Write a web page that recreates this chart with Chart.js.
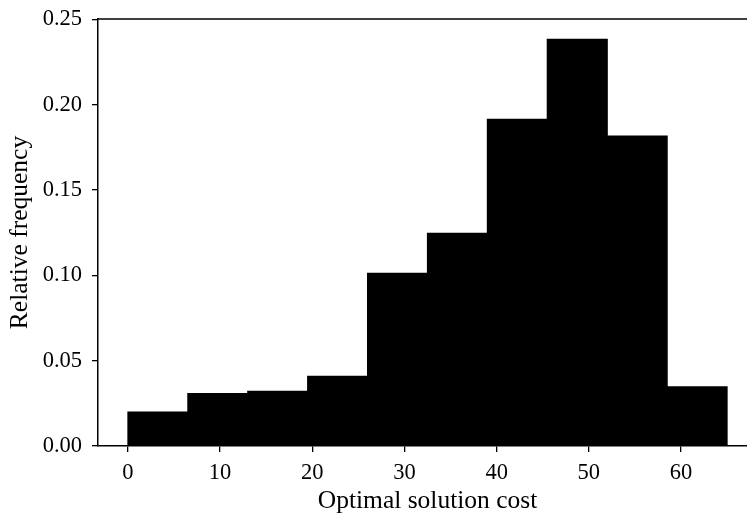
<!DOCTYPE html>
<html>
<head>
<meta charset="utf-8">
<script src="https://cdn.jsdelivr.net/npm/chart.js@4/dist/chart.umd.min.js"></script>
<style>
  html, body { margin: 0; padding: 0; overflow: hidden; background: #fff; width: 747px; height: 513px; }
  #wrap { position: absolute; left: 0; top: 0; width: 757px; height: 513px; }
</style>
</head>
<body>
<div id="wrap"><canvas id="c" width="757" height="513"></canvas></div>
<script>
// ---- data ----
const binStarts = [0, 6.5, 13, 19.5, 26, 32.5, 39, 45.5, 52, 58.5];
const binWidth = 6.5;
const frequencies = [0.0198, 0.0307, 0.0321, 0.0409, 0.1012, 0.1247, 0.1915, 0.2384, 0.1816, 0.0346];
const xTicks = [0, 10, 20, 30, 40, 50, 60];
const yTicks = [0.00, 0.05, 0.10, 0.15, 0.20, 0.25];
const xLabel = 'Optimal solution cost';
const yLabel = 'Relative frequency';

const FONT = "'Liberation Serif', 'Times New Roman', serif";

const points = binStarts.map((s, i) => ({ x: s + binWidth / 2, y: frequencies[i] }));

const topSpine = {
  id: 'topSpine',
  afterDraw(chart) {
    const { ctx, chartArea } = chart;
    ctx.save();
    ctx.strokeStyle = '#000';
    ctx.lineWidth = 1.5;
    ctx.beginPath();
    ctx.moveTo(chartArea.left - 0.75, chartArea.top);
    ctx.lineTo(chartArea.right, chartArea.top);
    ctx.stroke();
    ctx.restore();
  }
};

new Chart(document.getElementById('c'), {
  type: 'bar',
  data: {
    datasets: [{
      data: points,
      backgroundColor: '#000',
      borderWidth: 0,
      inflateAmount: 0.6,
      barPercentage: 1.0,
      categoryPercentage: 1.0
    }]
  },
  options: {
    responsive: false,
    animation: false,
    layout: { padding: { left: 0, right: 0, top: 19, bottom: 0 } },
    plugins: { legend: { display: false }, tooltip: { enabled: false } },
    scales: {
      x: {
        type: 'linear',
        offset: false,
        min: -3.25,
        max: 68.25,
        afterBuildTicks: (s) => { s.ticks = xTicks.map(v => ({ value: v })); },
        afterFit: (s) => { s.height = 67; s.paddingLeft = 0; s.paddingRight = 0; },
        grid: { offset: false, drawOnChartArea: false, drawTicks: true, tickLength: 6, color: '#000', lineWidth: 1.3 },
        border: { display: true, color: '#000', width: 1.5 },
        ticks: {
          autoSkip: false, maxRotation: 0, padding: 8, color: '#000',
          font: { family: FONT, size: 22.5 },
          callback: (v) => String(v)
        },
        title: {
          display: true, text: xLabel, color: '#000',
          font: { family: FONT, size: 25.5, lineHeight: 0.9 },
          padding: { top: 0, bottom: 0 }
        }
      },
      y: {
        type: 'linear',
        min: 0,
        max: 0.2503,
        afterBuildTicks: (s) => { s.ticks = yTicks.map(v => ({ value: v })); },
        afterFit: (s) => { s.width = 98; s.paddingTop = 0; s.paddingBottom = 0; },
        grid: { drawOnChartArea: false, drawTicks: true, tickLength: 6, color: '#000', lineWidth: 1.3 },
        border: { display: true, color: '#000', width: 1.5 },
        ticks: {
          autoSkip: false, padding: 10, color: '#000',
          font: { family: FONT, size: 22.5 },
          callback: (v) => Number(v).toFixed(2)
        },
        title: {
          display: true, text: yLabel, color: '#000',
          font: { family: FONT, size: 25.5, lineHeight: 0.9 },
          padding: { top: 9, bottom: 0 }
        }
      }
    }
  },
  plugins: [topSpine]
});
</script>
</body>
</html>
